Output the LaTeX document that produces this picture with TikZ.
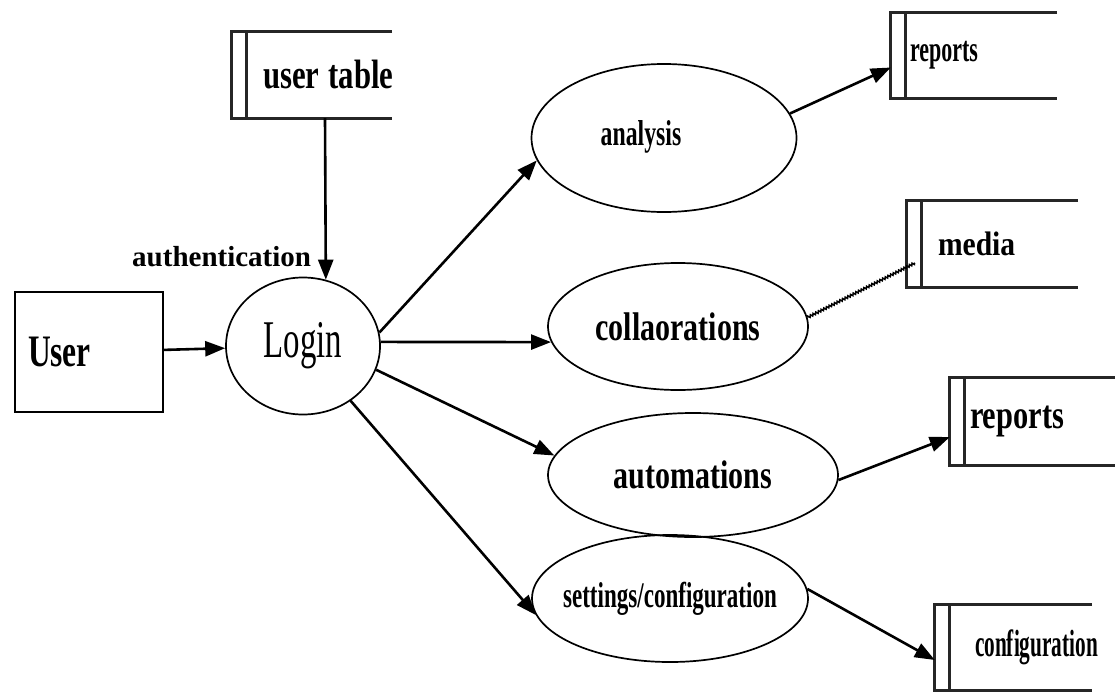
\documentclass[tikz,border=0pt]{standalone}
\usepackage{fontspec}
\setmainfont{Liberation Serif}
\usetikzlibrary{arrows.meta,shapes.geometric,decorations.pathmorphing}

% squeezed text: x-scale, size in pt, text
\newcommand{\sqtext}[3]{\scalebox{#1}[1]{\fontsize{#2pt}{#2pt}\selectfont #3}}
\newcommand{\midtext}[3]{\makebox[0pt]{\sqtext{#1}{#2}{#3}}}

\begin{document}
\begin{tikzpicture}[x=1pt, y=-1pt, font=\bfseries,
    process/.style={ellipse, draw, line width=1.7pt, inner sep=0pt},
    entity/.style={rectangle, draw, line width=1.9pt, align=left},
    store/.style={rectangle, align=left, inner ysep=0pt},
    store line/.style={line width=2.7pt, draw=black!85, line join=miter},
    flow/.style={line width=2.6pt, -{Triangle[length=20pt,width=15pt]}},
    link/.style={line width=1.5pt, decorate,
                 decoration={zigzag, segment length=3pt, amplitude=1.1pt}}]

    \useasboundingbox (0,0) rectangle (1115,696);

    % external entity
    \node[entity, minimum height=120pt, inner xsep=13pt, text width=122pt]
        (User) at (89,352) {\sqtext{0.7}{45}{User}};

    % data stores
    \node[store, minimum height=86pt, inner xsep=31pt, text width=98pt]
        (user table) at (312,75) {\sqtext{0.75}{41}{user\hspace{0.3em}table}};
    \node[store, minimum height=85pt, inner xsep=19pt, text width=128pt]
        (reports top) at (974,55.5) {\sqtext{0.61}{36}{reports}};
    \node[store, minimum height=86pt, inner xsep=31pt, text width=109pt]
        (media) at (992.5,244) {\sqtext{0.87}{34}{media}};
    \node[store, minimum height=87pt, inner xsep=20pt, text width=125pt]
        (reports mid) at (1032.5,421.5) {\sqtext{0.76}{40}{reports}};
    \node[store, minimum height=85pt, inner xsep=40pt, text width=77pt]
        (configuration) at (1013.5,647.5) {\sqtext{0.56}{38}{configuration}};

    \foreach \s in {user table, reports top, media, reports mid, configuration} {
        \draw[store line] (\s.north east) -- (\s.north west)
            -- (\s.south west) -- (\s.south east);
        \draw[store line] ([xshift=15pt]\s.north west) -- ([xshift=15pt]\s.south west);
    }

    % processes
    \node[process, font=\mdseries, minimum width=154pt, minimum height=137pt]
        (Login) at (303,346) {\midtext{0.62}{53}{Login}};
    \node[process, minimum width=265pt, minimum height=148pt]
        (analysis) at (664,138)
        {\makebox[0pt]{\hspace*{-46pt}\raisebox{9pt}{\sqtext{0.66}{36}{analysis}}}};
    \node[process, minimum width=260pt, minimum height=127pt]
        (collaorations) at (678,326.5) {\midtext{0.75}{40}{collaorations}};
    \node[process, minimum width=290pt, minimum height=124pt]
        (automations) at (693,475) {\midtext{0.75}{40}{automations}};
    \node[process, minimum width=276pt, minimum height=127pt]
        (settings) at (670,598.5) {\midtext{0.64}{36}{settings/configuration}};

    % data flows
    \draw[flow] (User) -- (Login);
    \draw[flow] ([xshift=13pt]user table.south) --
        node[pos=0.86, anchor=east, xshift=-10pt] (auth) {\sqtext{1}{29}{authentication}}
        (Login.71.5);
    \draw[flow] (Login.10)  -- (analysis.190);
    \draw[flow] (Login.3)   -- (collaorations.187);
    \draw[flow] (Login.-18) -- (automations.172);
    \draw[flow] (Login.-49) -- (settings.187);

    \draw[flow] (analysis.11) -- ([yshift=-12pt]reports top.west);
    \draw[link] (collaorations.4) -- ([xshift=8pt,yshift=-19pt]media.west);
    \draw[flow] (automations.-2) -- ([yshift=-15.5pt]reports mid.west);
    \draw[flow] (settings.4) -- ([yshift=-12.5pt]configuration.west);
\end{tikzpicture}
\end{document}
